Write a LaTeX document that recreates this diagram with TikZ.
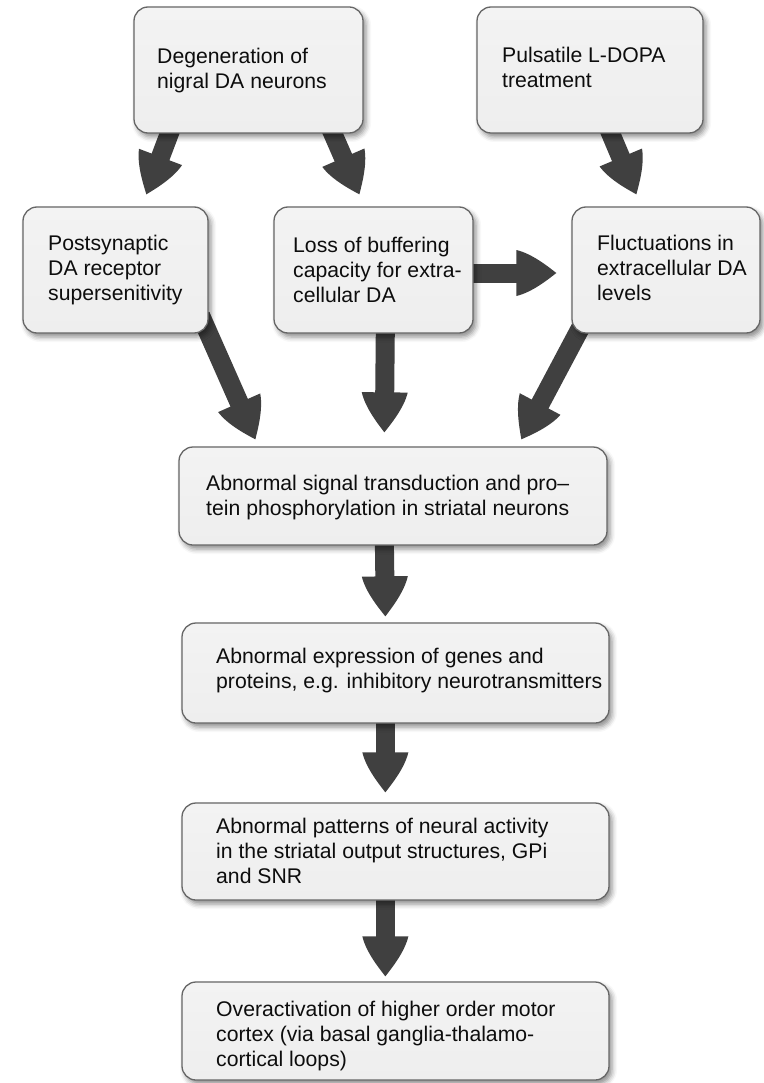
\documentclass[tikz,border=0pt]{standalone}
\usepackage{fontspec}
\setmainfont{Liberation Sans}
\usetikzlibrary{arrows.meta,shadows.blur}

% Broad arrow head with gently bulging sides
\pgfdeclarearrow{
  name = Ogive,
  parameters = {\the\pgfarrowlength,\the\pgfarrowwidth},
  setup code = {
    \pgfarrowssettipend{\pgfarrowlength}
    \pgfarrowssetlineend{2pt}
    \pgfarrowssetvisualbackend{0pt}
    \pgfarrowshullpoint{\pgfarrowlength}{0pt}
    \pgfarrowsupperhullpoint{0pt}{.5\pgfarrowwidth}
    \pgfarrowssavethe\pgfarrowlength
    \pgfarrowssavethe\pgfarrowwidth
  },
  drawing code = {
    \pgfpathmoveto{\pgfqpoint{0pt}{.5\pgfarrowwidth}}
    \pgfpathcurveto{\pgfqpoint{.4\pgfarrowlength}{.42\pgfarrowwidth}}{\pgfqpoint{.82\pgfarrowlength}{.12\pgfarrowwidth}}{\pgfqpoint{\pgfarrowlength}{0pt}}
    \pgfpathcurveto{\pgfqpoint{.82\pgfarrowlength}{-.12\pgfarrowwidth}}{\pgfqpoint{.4\pgfarrowlength}{-.42\pgfarrowwidth}}{\pgfqpoint{0pt}{-.5\pgfarrowwidth}}
    \pgfpathclose
    \pgfusepathqfill
  },
  defaults = {length = 40pt, width = 46pt}
}

\definecolor{boxfill}{HTML}{EEEEEE}
\definecolor{boxtop}{HTML}{F3F3F3}
\definecolor{boxedge}{HTML}{666666}
\definecolor{arrowgray}{HTML}{404040}
\definecolor{txt}{HTML}{0D0D0D}

\pgfdeclarelayer{arrowlayer}
\pgfsetlayers{arrowlayer,main}

\tikzset{
  box/.style={rectangle, rounded corners=14pt, draw=boxedge, line width=1.3pt,
    top color=boxtop, bottom color=boxfill, inner sep=0pt,
    blur shadow={shadow xshift=3pt, shadow yshift=-4pt, shadow blur radius=5pt, shadow opacity=45}},
  label/.style={anchor=north west, inner sep=0pt, align=left, text=txt,
    font=\fontsize{21.2}{25}\selectfont},
  fat/.style={draw=arrowgray, line width=19pt, -{Ogive[length=40pt,width=46pt]}, arrowgray}
}

\begin{document}
\begin{tikzpicture}[x=1pt,y=-1pt]
\useasboundingbox (0,0) rectangle (763,1083);

% boxes
\node[box, minimum width=229pt, minimum height=126pt] (b1) at (248.5,70) {};
\node[box, minimum width=226pt, minimum height=126pt] (b2) at (590,70) {};
\node[box, minimum width=185pt, minimum height=126pt] (b3) at (115.5,270) {};
\node[box, minimum width=199pt, minimum height=126pt] (b4) at (373.5,270) {};
\node[box, minimum width=188pt, minimum height=126pt] (b5) at (666,270) {};
\node[box, minimum width=428pt, minimum height=98pt] (b6) at (393,496) {};
\node[box, minimum width=427pt, minimum height=100pt] (b7) at (395.5,673) {};
\node[box, minimum width=427pt, minimum height=97pt] (b8) at (395.5,851.5) {};
\node[box, minimum width=427pt, minimum height=98pt] (b9) at (395.5,1031) {};

% texts
\node[label] (t1) at (157,48) {Degeneration of\\nigral DA neurons};
\node[label] (t2) at (502,47) {Pulsatile L-DOPA\\treatment};
\node[label] (t3) at (48,235) {Postsynaptic\\DA receptor\\supersenitivity};
\node[label] (t4) at (293,237) {Loss of buffering\\capacity for extra-\\cellular DA};
\node[label] (t5) at (597,235) {Fluctuations in\\extracellular DA\\levels};
\node[label] (t6) at (206,475) {Abnormal signal transduction and pro\textendash\\tein phosphorylation in striatal neurons};
\node[label] (t7) at (216,648) {Abnormal expression of genes and\\proteins, e.g. inhibitory neurotransmitters};
\node[label] (t8) at (216,818) {Abnormal patterns of neural activity\\in the striatal output structures, GPi\\and SNR};
\node[label] (t9) at (216,1001) {Overactivation of higher order motor\\cortex (via basal ganglia-thalamo-\\cortical loops)};

% connectors
\begin{pgfonlayer}{arrowlayer}
\draw[fat] ([xshift=39pt,yshift=8pt]b1.south west) -- ([xshift=124pt,yshift=12pt]b3.north west);
\draw[fat] ([xshift=196pt,yshift=8pt]b1.south west) -- ([xshift=86pt,yshift=12pt]b4.north west);
\draw[fat] ([xshift=131pt,yshift=8pt]b2.south west) -- ([xshift=65pt,yshift=12pt]b5.north west);
\draw[fat] ([xshift=-8pt,yshift=18pt]b3.south east) -- ([xshift=77pt,yshift=7pt]b6.north west);
\draw[fat] ([xshift=112pt,yshift=8pt]b4.south west) -- ([xshift=206pt,yshift=14pt]b6.north west);
\draw[fat] ([xshift=-8pt,yshift=-3pt]b4.east) -- ([xshift=-15pt,yshift=-3pt]b5.west);
\draw[fat] ([xshift=13pt,yshift=13pt]b5.south west) -- ([xshift=343pt,yshift=7pt]b6.north west);
\draw[fat] ([xshift=206pt,yshift=5pt]b6.south west) -- ([xshift=204pt,yshift=6pt]b7.north west);
\draw[fat] ([xshift=204pt,yshift=8pt]b7.south west) -- ([xshift=204pt,yshift=10pt]b8.north west);
\draw[fat] ([xshift=204pt,yshift=5pt]b8.south west) -- ([xshift=204pt,yshift=5pt]b9.north west);
\end{pgfonlayer}
\end{tikzpicture}
\end{document}
